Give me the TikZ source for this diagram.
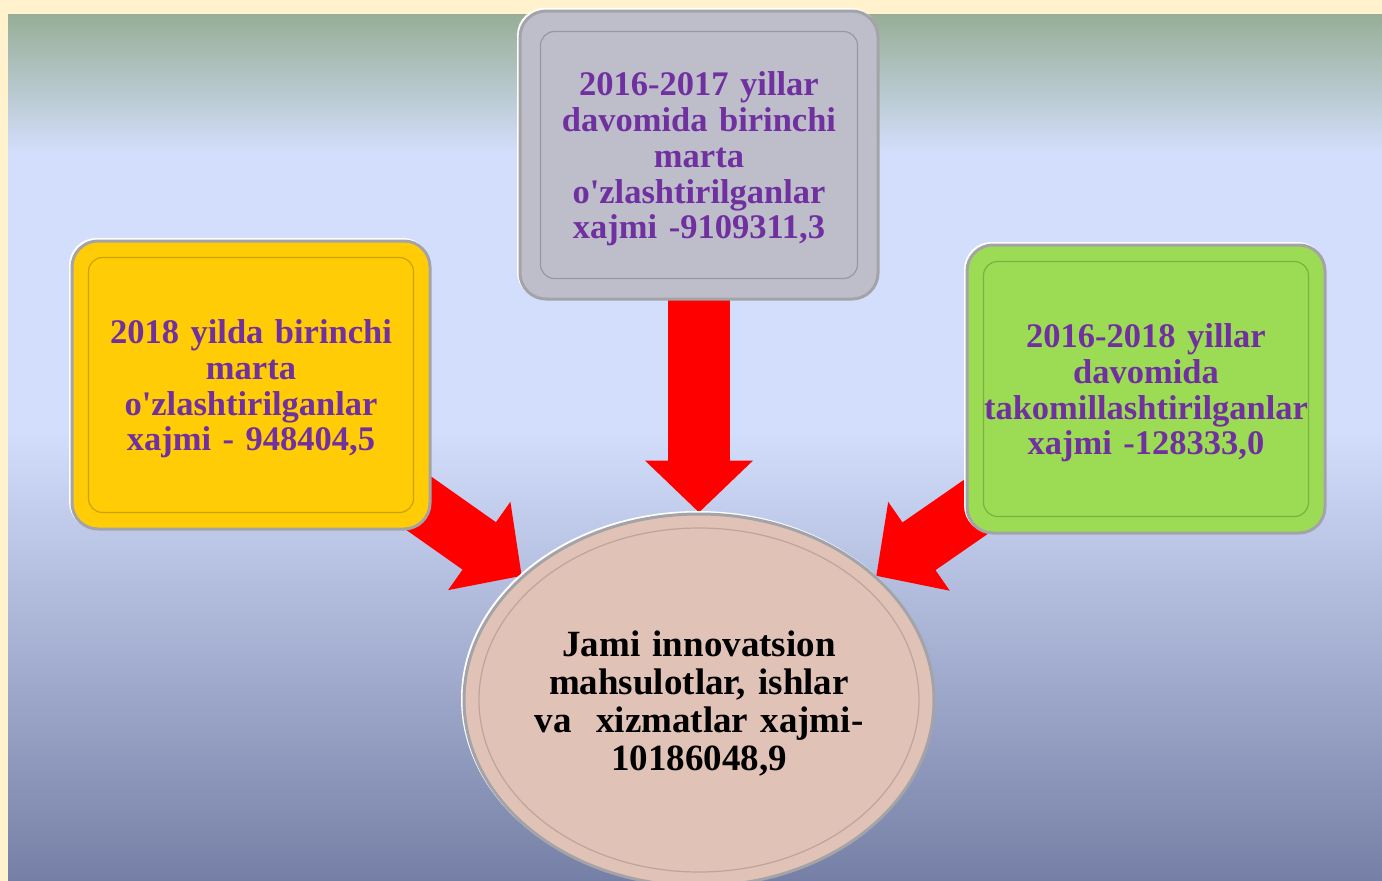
\documentclass[tikz,border=0pt]{standalone}
\usepackage{fontspec}
\setmainfont{Liberation Serif}
\usetikzlibrary{shapes.geometric, positioning, arrows.meta}

\definecolor{cream}{HTML}{FFF2CC}
\definecolor{topgreen}{HTML}{97AE96}
\definecolor{skyblue}{HTML}{D3DEFC}
\definecolor{dusk}{HTML}{7680A6}
\definecolor{cardyellow}{HTML}{FFCC06}
\definecolor{cardgray}{HTML}{BEBECB}
\definecolor{cardgreen}{HTML}{9CDC55}
\definecolor{ovalpink}{HTML}{E0C2B6}
\definecolor{txtpurple}{HTML}{7030A0}
\definecolor{rimgray}{HTML}{A4A4A8}

\pgfdeclareverticalshading{panelshade}{100bp}{color(0bp)=(dusk); color(25bp)=(dusk); color(51bp)=(skyblue); color(67bp)=(skyblue); color(75bp)=(topgreen); color(100bp)=(topgreen)}
\pgfdeclarelayer{panel}
\pgfdeclarelayer{flow}
\pgfsetlayers{panel,flow,main}

\begin{document}
\begin{tikzpicture}[x=1pt, y=-1pt, on grid, thick,
    card/.style={rectangle, rounded corners=26pt, minimum width=358pt, minimum height=288pt,
        inner sep=2pt, align=center, text width=345pt, text height=32pt, text=txtpurple,
        font=\bfseries\fontsize{34.5}{35.75}\selectfont, draw=rimgray, line width=3pt,
        preaction={draw=white, line width=3pt, transform canvas={shift={(-1.5pt,1.5pt)}}}},
    total/.style={ellipse, minimum width=470pt, minimum height=372pt, inner sep=0pt,
        align=center, text width=330pt, text height=32pt, fill=ovalpink, draw=rimgray, line width=3pt,
        font=\bfseries\fontsize{37}{38}\selectfont,
        preaction={draw=white, line width=3pt, transform canvas={shift={(-1.5pt,1.5pt)}}}},
    innerline/.style={draw=#1, line width=1.2pt, rounded corners=14pt},
    flowarrow/.style={draw=red, line width=#1, -{Triangle[length=52pt 0 0, width=105pt 0 0]}}]
    \useasboundingbox (0,0) rectangle (1382,881);

    % Nodes
    \node[total] (tot) at (699,700) {Jami innovatsion\\mahsulotlar, ishlar\\va\ \ xizmatlar xajmi-\\10186048,9};
    \node[card, fill=cardgray] (gray) [above=545pt of tot]
        {2016-2017 yillar\\davomida birinchi\\marta\\o\textquotesingle zlashtirilganlar\\xajmi -9109311,3};
    \node[card, fill=cardyellow] (yellow) [above left=315pt and 448pt of tot]
        {2018 yilda birinchi\\marta\\o\textquotesingle zlashtirilganlar\\xajmi - 948404,5};
    \node[card, fill=cardgreen] (green) [above right=311pt and 447pt of tot]
        {2016-2018 yillar\\davomida\\takomillashtirilganlar\\xajmi -128333,0};

    % Inner frames
    \foreach \b/\c/\d in {yellow/cardyellow/18pt, gray/cardgray/22pt, green/cardgreen/18pt}
        \draw[innerline=\c!80!black] ([shift={(\d,-\d)}]\b.north west) rectangle ([shift={(-\d,\d)}]\b.south east);
    \draw[draw=ovalpink!85!black, line width=1.2pt] (tot.center) ellipse [x radius=220pt, y radius=172pt];

    % Background panel
    \begin{pgfonlayer}{panel}
        \fill[cream] (0,0) rectangle (1382,881);
        \shade[shading=panelshade] (8,14) rectangle (1382,881);
    \end{pgfonlayer}

    % Arrows into the total
    \begin{pgfonlayer}{flow}
        \draw[flowarrow=62pt] (gray.center) -- (tot.north);
        \draw[flowarrow=58pt] (yellow.center) -- (tot.145);
        \draw[flowarrow=58pt] (green.center) -- (tot.35);
    \end{pgfonlayer}
\end{tikzpicture}
\end{document}
